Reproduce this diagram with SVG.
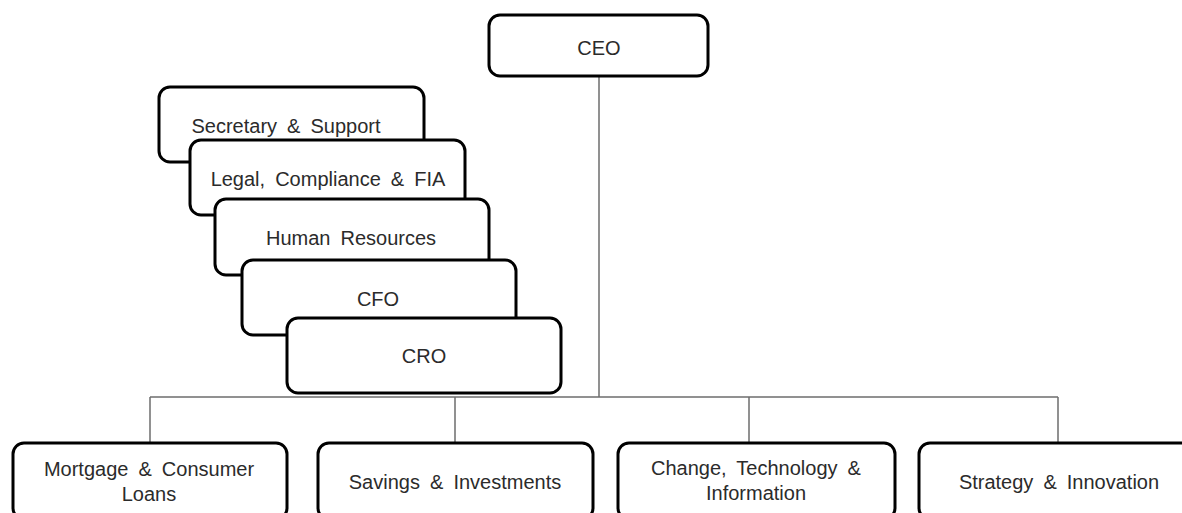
<svg xmlns="http://www.w3.org/2000/svg" width="1182" height="513" viewBox="0 0 1182 513">
<style>
.box{fill:#fff;stroke:#000;stroke-width:3}
.lbl{font-family:"Liberation Sans",Arial,sans-serif;font-size:20px;fill:#2b2b2b;text-anchor:middle;word-spacing:4.5px}
.conn{fill:none;stroke:#6e6e6e;stroke-width:1.5}
</style>
<rect width="1182" height="513" fill="#fff"/>
<g id="connectors">
<path class="conn" d="M599 77V397M150 397H1058M150 397V443M455 397V443M749 397V443M1058 397V443"/>
</g>
<g id="ceo"><rect class="box" x="489" y="15" width="219" height="61" rx="11"/><text class="lbl" x="599" y="55">CEO</text></g>
<g id="secretary"><rect class="box" x="159" y="87" width="265" height="75" rx="11"/><text class="lbl" x="286" y="133">Secretary &amp; Support</text></g>
<g id="legal"><rect class="box" x="190" y="140" width="275" height="75" rx="11"/><text class="lbl" x="328" y="186">Legal, Compliance &amp; FIA</text></g>
<g id="hr"><rect class="box" x="215" y="199" width="274" height="76" rx="11"/><text class="lbl" x="351" y="245">Human Resources</text></g>
<g id="cfo"><rect class="box" x="242" y="260" width="274" height="75" rx="11"/><text class="lbl" x="378" y="306">CFO</text></g>
<g id="cro"><rect class="box" x="287" y="318" width="274" height="75" rx="11"/><text class="lbl" x="424" y="363">CRO</text></g>
<g id="mortgage"><rect class="box" x="13" y="443" width="274" height="76" rx="11"/><text class="lbl" x="149" y="476">Mortgage &amp; Consumer</text><text class="lbl" x="149" y="501">Loans</text></g>
<g id="savings"><rect class="box" x="318" y="443" width="275" height="76" rx="11"/><text class="lbl" x="455" y="489">Savings &amp; Investments</text></g>
<g id="change"><rect class="box" x="618" y="443" width="277" height="76" rx="11"/><text class="lbl" x="756" y="475">Change, Technology &amp;</text><text class="lbl" x="756" y="500">Information</text></g>
<g id="strategy"><rect class="box" x="919" y="443" width="278" height="76" rx="11"/><text class="lbl" x="1059" y="489">Strategy &amp; Innovation</text></g>
</svg>
